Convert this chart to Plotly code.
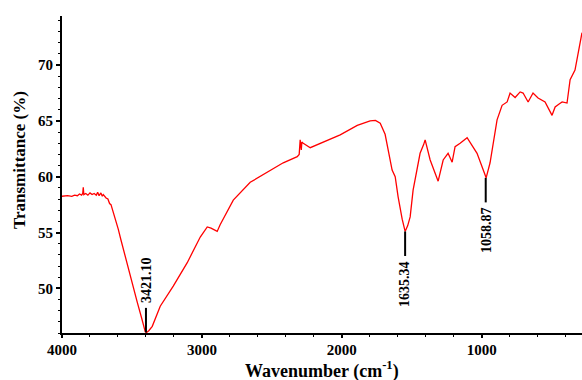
import plotly.graph_objects as go

wavenumber = [4000, 3960, 3930, 3910, 3890, 3875, 3860, 3852, 3848, 3844, 3830, 3815, 3800,
              3785, 3770, 3755, 3745, 3735, 3722, 3712, 3705, 3695, 3685, 3672, 3660, 3650,
              3640, 3634, 3615, 3598, 3580, 3562, 3512, 3462, 3430, 3405, 3395, 3380, 3355,
              3298, 3205, 3105, 3012, 2962, 2935, 2891, 2870, 2776, 2655, 2512, 2419, 2319,
              2305, 2298, 2290, 2286, 2276, 2226, 2134, 2012, 1890, 1798, 1760, 1726, 1691,
              1669, 1641, 1619, 1598, 1569, 1548, 1530, 1512, 1491, 1462, 1441, 1415, 1405,
              1369, 1334, 1312, 1276, 1241, 1212, 1191, 1155, 1105, 1034, 991, 969, 941,
              919, 891, 855, 819, 798, 762, 726, 705, 669, 634, 598, 548, 498, 476, 450,
              426, 391, 369, 334, 312, 284]
transmittance = [58.25, 58.3, 58.25, 58.35, 58.3, 58.45, 58.35, 58.5, 59.05, 58.4, 58.5, 58.35, 58.55,
                 58.4, 58.5, 58.35, 58.6, 58.3, 58.55, 58.25, 58.4, 58.2, 58.1, 58.0, 57.6, 57.5,
                 57.1, 56.8, 56.2, 55.3, 54.4, 53.5, 51.1, 48.75, 47.3, 46.1, 46.05, 46.2, 46.6,
                 48.4, 50.2, 52.3, 54.6, 55.5, 55.4, 55.1, 55.7, 57.9, 59.5, 60.6, 61.25, 61.8,
                 62.0, 63.3, 62.4, 63.1, 63.0, 62.6, 63.1, 63.75, 64.6, 65.0, 65.05, 64.8, 63.8,
                 62.4, 60.6, 60.0, 58.2, 56.2, 55.1, 55.6, 56.4, 58.8, 60.9, 62.1, 62.9, 63.3,
                 61.5, 60.4, 59.6, 61.5, 62.1, 61.3, 62.7, 63.0, 63.5, 62.1, 60.6, 59.9, 61.25,
                 63.0, 65.1, 66.4, 66.7, 67.5, 67.1, 67.6, 67.5, 66.7, 67.5, 67.05, 66.7, 65.5, 66.25, 66.5,
                 66.7, 66.6, 68.7, 69.55, 71.1, 72.9]

peak_wn = [3400, 1548, 972]
peak_t = [46.05, 55.1, 59.9]
peak_labels = ["3421.10", "1635.34", "1058.87"]
peak_dir = [1, -1, -1]  # label above (1) or below (-1) the peak

x_ticks = [4000, 3000, 2000, 1000]
y_ticks = [50, 55, 60, 65, 70]

FONT = "Liberation Serif"

fig = go.Figure()
fig.add_trace(go.Scatter(x=wavenumber, y=transmittance, mode="lines",
                         line=dict(color="#ff0000", width=1.3), showlegend=False,
                         hoverinfo="skip"))

for wn, t, lab, d in zip(peak_wn, peak_t, peak_labels, peak_dir):
    end = t + d * 2.2
    fig.add_shape(type="line", xref="x", yref="y", x0=wn, x1=wn, y0=t, y1=end,
                  line=dict(color="black", width=2))
    fig.add_annotation(x=wn, y=end + d * 0.25, xref="x", yref="y", text=lab,
                       textangle=-90, showarrow=False, xanchor="center",
                       yanchor="bottom" if d > 0 else "top",
                       font=dict(family=FONT, size=14, color="black", weight="bold"))

fig.add_annotation(x=0.5, y=-0.117, xref="paper", yref="paper", yanchor="middle",
                   text="Wavenumber (cm<sup>-1</sup>)", showarrow=False,
                   font=dict(family=FONT, size=18, color="black", weight="bold"))
fig.add_annotation(x=-0.083, y=0.545, xref="paper", yref="paper", xanchor="center",
                   text="Transmittance (%)", showarrow=False, textangle=-90,
                   font=dict(family=FONT, size=17, color="black", weight="bold"))

fig.update_xaxes(range=[4000, 284], tickvals=x_ticks, ticks="outside", ticklen=3,
                 tickwidth=1.5, tickcolor="black", showline=True, linecolor="black",
                 linewidth=2, showgrid=False, zeroline=False, mirror=False, automargin=False,
                 ticklabelstandoff=-1,
                 tickfont=dict(family=FONT, size=15, color="black", weight="bold"),
                 minor=dict(dtick=200, tick0=0, ticks="outside", ticklen=2,
                            tickwidth=1, tickcolor="black", showgrid=False))
fig.update_yaxes(range=[46, 74.4], tickvals=y_ticks, ticks="outside", ticklen=4,
                 tickwidth=1.5, tickcolor="black", showline=True, linecolor="black",
                 linewidth=2, showgrid=False, zeroline=False, mirror=False, automargin=False,
                 tickfont=dict(family=FONT, size=15, color="black", weight="bold"),
                 minor=dict(dtick=1, tick0=0, ticks="outside", ticklen=2,
                            tickwidth=1, tickcolor="black", showgrid=False))

fig.update_layout(width=582, height=380, margin=dict(l=62, r=0, t=16, b=47),
                  plot_bgcolor="white", paper_bgcolor="white")

fig.write_html("out.html", config={"displayModeBar": False},
               post_script="document.body.style.margin='0';document.body.style.overflow='hidden';")
